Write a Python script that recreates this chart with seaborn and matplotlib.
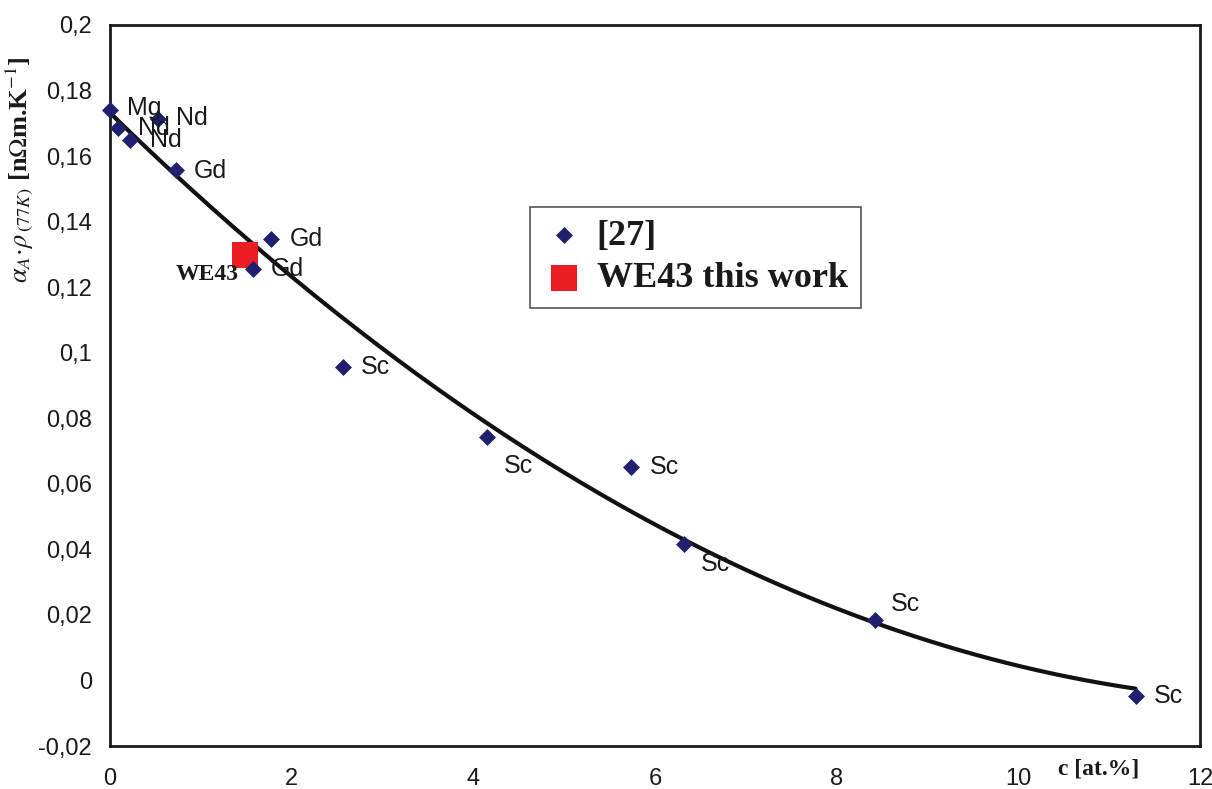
import numpy as np
import pandas as pd
import matplotlib
matplotlib.use("Agg")
import matplotlib.pyplot as plt
from matplotlib.ticker import MultipleLocator
import seaborn as sns

# Literature data [27]: solute concentration vs. alpha_A * rho(77K)
conc_27 = [0.00, 0.09, 0.22, 0.53, 0.73, 1.77, 1.57, 2.57, 4.15, 5.74, 6.32, 8.42, 11.29]
alpha_rho_27 = [0.1740, 0.1686, 0.1650, 0.1713, 0.1557, 0.1347, 0.1255,
                0.0956, 0.0742, 0.0650, 0.0415, 0.0183, -0.0046]
element_27 = ["Mg", "Nd", "Nd", "Nd", "Gd", "Gd", "Gd",
              "Sc", "Sc", "Sc", "Sc", "Sc", "Sc"]

# This work
conc_we43 = [1.49]
alpha_rho_we43 = [0.1298]
label_we43 = ["WE43"]

x_ticks = [0, 2, 4, 6, 8, 10, 12]
y_ticks = [-0.02, 0.0, 0.02, 0.04, 0.06, 0.08, 0.10, 0.12, 0.14, 0.16, 0.18, 0.20]
y_tick_labels = ["-0,02", "0", "0,02", "0,04", "0,06", "0,08", "0,1",
                 "0,12", "0,14", "0,16", "0,18", "0,2"]

# label offsets in pixels (dx, dy)
label_offsets = [(17, 2), (20, 0), (20, 0), (18, 1), (17, -1), (19, 0), (18, 0),
                 (17, 0), (17, -29), (18, 0), (17, -20), (16, 16), (18, 0)]

navy = "#20206f"
red = "#ec1c24"

sns.set_theme(style="white")
plt.rcParams["font.family"] = ["Liberation Sans", "DejaVu Sans"]
plt.rcParams["mathtext.fontset"] = "stix"

fig = plt.figure(figsize=(12.12, 7.89), dpi=100)
ax = fig.add_axes([110 / 1212, 1 - 746 / 789, 1090 / 1212, 721 / 789])

# second-order trend line through the literature points
coef = np.polyfit(conc_27, alpha_rho_27, 2)
trend_x = np.linspace(0, max(conc_27), 200)
trend = pd.DataFrame({"c": trend_x, "v": np.polyval(coef, trend_x)})
sns.lineplot(data=trend, x="c", y="v", ax=ax, color="#111111", lw=3, zorder=2)

df27 = pd.DataFrame({"c": conc_27, "v": alpha_rho_27})
sns.scatterplot(data=df27, x="c", y="v", ax=ax, marker="D", s=75, color=navy,
                edgecolor=navy, linewidth=0, zorder=4, label="[27]", clip_on=False)
dfw = pd.DataFrame({"c": conc_we43, "v": alpha_rho_we43})
sns.scatterplot(data=dfw, x="c", y="v", ax=ax, marker="s", s=330, color=red,
                edgecolor=red, linewidth=0, zorder=3, label="WE43 this work")

for xv, yv, t, (dx, dy) in zip(conc_27, alpha_rho_27, element_27, label_offsets):
    ax.annotate(t, (xv, yv), xytext=(dx, dy), textcoords="offset pixels",
                ha="left", va="center", fontsize=18, color="#1a1a1a", zorder=5)
for xv, yv, t in zip(conc_we43, alpha_rho_we43, label_we43):
    ax.annotate(t, (xv, yv), xytext=(-7, -19), textcoords="offset pixels",
                ha="right", va="center", fontsize=17, fontweight="bold",
                family="Liberation Serif", color="#1a1a1a", zorder=5)

ax.set_xlim(0, 12)
ax.set_ylim(-0.02, 0.2)
ax.set_xticks(x_ticks)
ax.set_xticklabels([str(v) for v in x_ticks])
ax.set_yticks(y_ticks)
ax.set_yticklabels(y_tick_labels)
ax.xaxis.set_minor_locator(MultipleLocator(0.4))
ax.yaxis.set_minor_locator(MultipleLocator(0.01))
ax.tick_params(axis="both", which="major", direction="in", length=7, width=1.3,
               color="#222222", labelsize=17, labelcolor="#1a1a1a")
ax.tick_params(axis="both", which="minor", direction="in", length=4, width=1.2,
               color="#222222")
ax.tick_params(axis="x", which="major", pad=16)
ax.tick_params(axis="y", which="major", pad=13)
for sp in ax.spines.values():
    sp.set_visible(True)
    sp.set_color("#1a1a1a")
    sp.set_linewidth(2)

ax.set_xlabel("c [at.%]", fontsize=17, fontweight="bold", family="Liberation Serif",
              color="#1a1a1a")
ax.xaxis.set_label_coords(0.907, -0.018)
ax.set_ylabel(r"$\alpha_A\!\cdot\!\rho_{\,(77K)}$ [n$\Omega$m.K$^{-1}$]", fontsize=19,
              fontweight="bold", family="Liberation Serif", color="#1a1a1a")
ax.yaxis.set_label_coords(-0.068, 0.80)

leg = ax.legend(loc="upper left", bbox_to_anchor=((530 - 110) / 1090, (746 - 207) / 721),
                borderaxespad=0, frameon=True, fancybox=False, edgecolor="#555555",
                framealpha=1,
                prop={"family": "Liberation Serif", "weight": "bold", "size": 26},
                borderpad=0.35, labelspacing=0.25, handletextpad=0.3, handlelength=1.2,
                markerscale=1.0)
leg.get_frame().set_linewidth(1.2)
for t in leg.get_texts():
    t.set_color("#1a1a1a")

fig.savefig("out.png", dpi=100, facecolor="white")
